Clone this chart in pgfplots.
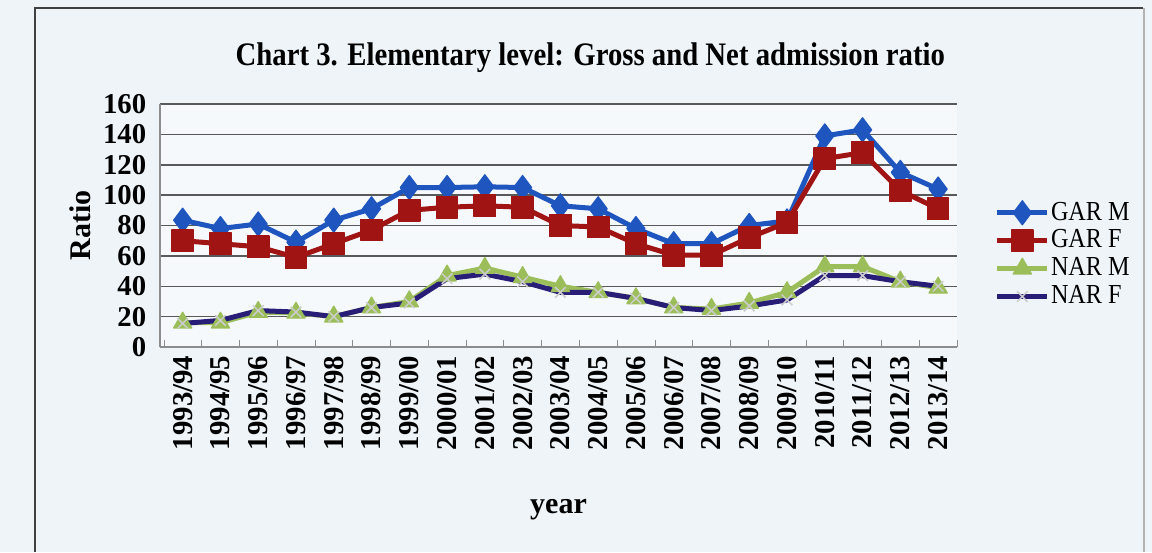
\documentclass[border=0pt]{standalone}
\usepackage{fontspec}
\setmainfont{Liberation Serif}
\usepackage{graphicx}
\usepackage{pgfplots}
\pgfplotsset{compat=1.18}

\definecolor{paper}{RGB}{238,244,248}
\definecolor{plotbg}{RGB}{246,249,251}
\definecolor{garm}{RGB}{30,85,190}
\definecolor{garf}{RGB}{160,20,20}
\definecolor{narm}{RGB}{155,190,90}
\definecolor{narf}{RGB}{40,30,120}

% year index, GAR male, GAR female, NAR male, NAR female
\pgfplotstableread{
i  garm   garf  narm  narf
0  83.5   70    16    15.5
1  78     68    16    17.5
2  81     66    23    24
3  69     59    22.5  23
4  83.5   68    20    20
5  91     77    26    26
6  105    90    30    29
7  105    92    47    45
8  105.5  93    52    48
9  105    92    46    43
10 93     80    40    36
11 91     79    36    36
12 78     68    32    32
13 68     60.5  26    26
14 68     60.5  25    24
15 80     72    29    27
16 83     82    36    31
17 139    124   53    47
18 143    128   53    47
19 115    103   43    43
20 104    91    39    40
}\ratios

\begin{document}
\begin{tikzpicture}
\fill[paper] (0pt,0pt) rectangle (460.8pt,220.8pt);
\useasboundingbox (0pt,0pt) rectangle (460.8pt,220.8pt);
\draw[black!75, line width=0.8pt] (14pt,0pt) -- (14pt,217.6pt) -- (457pt,217.6pt);
\draw[black!30, line width=0.8pt] (457.5pt,217.6pt) -- (457.5pt,0pt);
\begin{axis}[
    at={(64pt,82pt)}, anchor=south west,
    scale only axis, width=318.8pt, height=97.2pt,
    axis background/.style={fill=plotbg},
    xmin=-0.6, xmax=20.5, ymin=0, ymax=160,
    ytick={0,20,...,160},
    xtick={0,...,20},
    xticklabels={1993/94,1994/95,1995/96,1996/97,1997/98,1998/99,1999/00,2000/01,2001/02,2002/03,2003/04,2004/05,2005/06,2006/07,2007/08,2008/09,2009/10,2010/11,2011/12,2012/13,2013/14},
    minor xtick={-0.5,0.5,...,20.5},
    major x tick style={draw=none},
    minor tick length=3pt,
    y tick style={draw=none},
    axis x line*=bottom, axis y line*=left,
    axis line style={black!45, line width=0.6pt},
    tick style={black!45},
    ymajorgrids, grid style={black!65, line width=0.6pt},
    /pgf/number format/assume math mode=true,
    ticklabel style={font=\fontsize{11.5}{12}\selectfont\bfseries},
    xticklabel style={rotate=90, anchor=east, xshift=0pt},
    yticklabel style={xshift=-2pt},
    ylabel={Ratio},
    ylabel style={at={(axis description cs:-0.1,0.5)}, anchor=center, font=\fontsize{12}{12}\selectfont\bfseries},
    xlabel={year},
    xlabel style={at={(axis description cs:0.5,-0.67)}, anchor=center, font=\fontsize{12}{12}\selectfont\bfseries},
    title={\scalebox{0.92}[1.05]{Chart 3. Elementary level: Gross and Net admission ratio}},
    title style={at={(axis description cs:0.54,1.13)}, anchor=center, font=\fontsize{12.5}{13}\selectfont\bfseries},
    legend style={at={(1.047,0.38)}, anchor=west, draw=none, fill=none,
        font=\fontsize{11}{12}\selectfont, row sep=-1.6pt, inner sep=0pt,
        nodes={inner xsep=0.5pt}},
    legend cell align=left,
    legend image post style={line width=2pt},
    legend image code/.code={
        \draw[mark repeat=2,mark phase=2]
        plot coordinates {(0cm,0cm) (0.35cm,0cm) (0.7cm,0cm)};},
    every axis plot/.append style={line width=2pt, line join=round},
]
\addplot[color=garm, mark=diamond*, mark size=4.8pt, mark options={line width=0.5pt}] table[x=i, y=garm] {\ratios};
\addlegendentry{\scalebox{0.88}[1]{GAR M}}
\addplot[color=garf, mark=square*, mark size=4.3pt, mark options={line width=0.5pt}] table[x=i, y=garf] {\ratios};
\addlegendentry{\scalebox{0.88}[1]{GAR F}}
\addplot[color=narm, mark=triangle*, mark size=4.2pt, mark options={line width=0.5pt}] table[x=i, y=narm] {\ratios};
\addlegendentry{\scalebox{0.88}[1]{NAR M}}
\addplot[color=narf, mark=x, mark size=3pt, mark options={color=black!20, line width=0.6pt}] table[x=i, y=narf] {\ratios};
\addlegendentry{\scalebox{0.88}[1]{NAR F}}
\end{axis}
\end{tikzpicture}
\end{document}
